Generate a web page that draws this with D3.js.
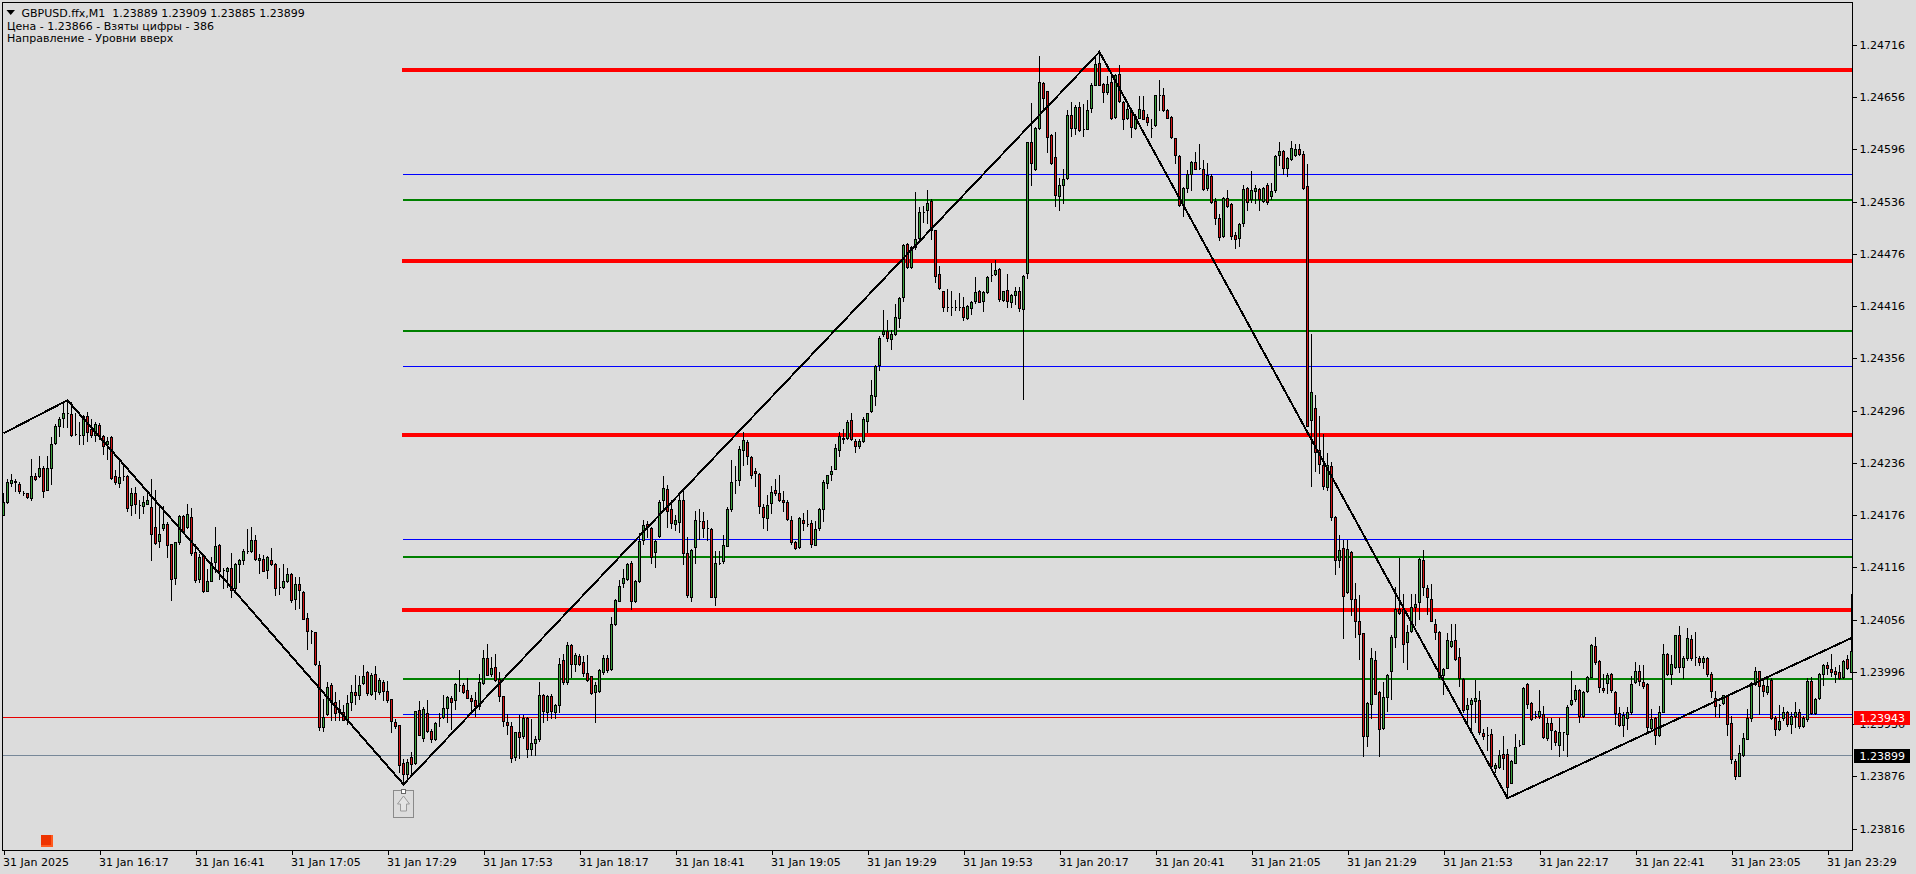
<!DOCTYPE html>
<html><head><meta charset="utf-8">
<script src="https://cdn.jsdelivr.net/npm/d3@7/dist/d3.min.js"></script>
<style>html,body{margin:0;padding:0;background:#dcdcdc;overflow:hidden}svg{display:block}text{font-family:"DejaVu Sans",sans-serif;font-size:11px;fill:#000;white-space:pre}</style>
</head><body><svg id="c" width="1916" height="874"></svg>
<script>
// All candle values: points above 1.23000 (1 point = 0.00001), rows are [open, high, low, close]
const session1 = [[1176,1201,1176,1191],[1191,1218,1190,1214],[1213,1223,1210,1216],[1215,1217,1204,1214],[1212,1214,1201,1204],[1202,1204,1199,1201],[1202,1202,1196,1197],[1196,1241,1194,1221],[1221,1224,1216,1217],[1221,1244,1220,1230],[1230,1233,1197,1204],[1205,1244,1205,1230],[1230,1266,1212,1258],[1259,1281,1258,1279],[1279,1289,1267,1287],[1288,1306,1277,1293],[1293,1308,1277,1293],[1292,1306,1267,1268],[1269,1293,1268,1269],[1268,1283,1258,1268],[1268,1291,1258,1290],[1290,1294,1261,1271],[1275,1287,1266,1268],[1268,1283,1261,1281],[1280,1282,1263,1268],[1267,1268,1246,1256],[1258,1266,1240,1261],[1266,1267,1218,1219],[1221,1228,1212,1214],[1213,1240,1208,1220],[1221,1232,1216,1221],[1221,1222,1181,1184],[1188,1207,1176,1201],[1201,1208,1178,1189],[1188,1193,1173,1188],[1187,1198,1178,1191],[1189,1203,1189,1193],[1185,1217,1124,1154],[1162,1205,1143,1144],[1146,1186,1140,1154],[1161,1186,1159,1166],[1166,1168,1128,1142],[1143,1143,1079,1103],[1104,1145,1097,1145],[1145,1176,1143,1175],[1175,1176,1157,1158],[1162,1189,1161,1177],[1174,1184,1130,1133],[1134,1143,1099,1102],[1103,1132,1099,1128],[1130,1131,1088,1089],[1089,1114,1089,1101],[1101,1128,1101,1121],[1122,1163,1111,1141],[1142,1143,1103,1112],[1113,1115,1092,1113],[1112,1117,1093,1115],[1115,1133,1082,1090],[1092,1121,1089,1120],[1120,1126,1099,1124],[1125,1137,1120,1135],[1135,1160,1133,1135],[1135,1163,1134,1148],[1148,1153,1124,1126],[1125,1131,1110,1127],[1126,1130,1112,1112],[1113,1129,1104,1128],[1125,1138,1119,1120],[1120,1121,1084,1092],[1093,1115,1086,1093],[1094,1120,1092,1101],[1100,1115,1099,1108],[1108,1110,1076,1079],[1080,1105,1068,1097],[1097,1105,1069,1090],[1088,1089,1057,1057],[1058,1064,1022,1043],[1043,1044,1029,1043],[1042,1042,1004,1005],[1004,1009,929,933],[933,965,928,944],[948,985,947,979],[981,983,941,962],[962,973,941,949],[954,964,941,950],[950,958,941,941],[941,969,936,960],[962,981,952,973],[973,993,959,970],[970,991,965,981],[983,1004,982,991],[996,997,969,972],[971,995,969,993],[994,1003,965,974],[973,989,971,987],[985,987,964,974]];
const session2 = [[974,986,961,964],[965,965,927,940],[939,942,932,934],[935,935,881,889],[891,896,867,879],[879,896,872,893],[898,904,877,890],[891,951,890,951],[952,963,924,924],[920,956,917,954],[949,964,927,928],[928,931,916,919],[919,938,918,937],[943,949,934,943],[944,969,943,955],[955,968,939,967],[966,968,931,962],[964,983,954,982],[981,998,974,981],[981,983,972,973],[975,989,966,966],[966,969,950,963],[964,973,945,957],[957,994,954,984],[983,1021,982,1012],[1012,1028,992,992],[994,1013,991,1001],[1002,1017,986,987],[988,996,963,968],[968,968,934,940],[939,948,925,935],[934,938,893,897],[898,927,895,927],[927,946,897,921],[922,946,920,943],[943,944,898,907],[907,942,901,914],[914,922,901,919],[919,984,917,969],[969,971,938,951],[950,970,941,968],[968,971,943,951],[950,959,943,958],[958,1012,950,1005],[1010,1017,982,984],[985,1030,982,1027],[1027,1028,990,1005],[1005,1018,997,1015],[1014,1017,1004,1005],[1007,1014,991,995],[995,1015,986,987],[991,991,971,972],[973,985,938,981],[974,999,973,998],[996,1016,994,1012],[1012,1015,996,998],[999,1059,998,1051],[1051,1080,1050,1079],[1078,1102,1077,1095],[1098,1114,1093,1104],[1103,1121,1102,1120],[1121,1123,1068,1078],[1077,1102,1076,1101],[1100,1155,1099,1146],[1147,1170,1143,1165],[1166,1169,1151,1163],[1161,1162,1121,1128],[1134,1147,1117,1146],[1152,1194,1151,1191],[1193,1221,1182,1207],[1206,1211,1162,1181],[1183,1193,1161,1167],[1166,1176,1159,1170],[1168,1200,1157,1193],[1193,1204,1120,1133],[1133,1151,1082,1084],[1082,1137,1077,1136],[1139,1181,1121,1170],[1169,1183,1149,1169],[1169,1180,1151,1161],[1161,1170,1147,1161],[1160,1161,1082,1082],[1082,1135,1073,1121],[1121,1135,1120,1121],[1123,1153,1121,1142],[1141,1185,1141,1183],[1183,1239,1181,1214],[1216,1233,1202,1216],[1216,1255,1211,1252],[1251,1271,1234,1262],[1260,1262,1235,1244],[1243,1244,1219,1222],[1227,1230,1209,1224],[1223,1224,1179,1186],[1185,1189,1161,1174],[1173,1199,1159,1188]];
const session3 = [[1190,1210,1179,1203],[1205,1217,1199,1201],[1202,1222,1192,1193],[1194,1204,1181,1191],[1191,1193,1171,1172],[1171,1175,1143,1145],[1145,1146,1137,1138],[1139,1174,1138,1173],[1171,1179,1159,1167],[1166,1182,1164,1166],[1167,1170,1140,1143],[1142,1169,1142,1160],[1161,1184,1159,1183],[1183,1216,1169,1214],[1213,1222,1207,1222],[1223,1232,1216,1227],[1229,1258,1229,1253],[1251,1271,1244,1267],[1265,1275,1259,1264],[1265,1285,1264,1283],[1285,1293,1262,1263],[1261,1264,1249,1256],[1255,1264,1253,1261],[1261,1289,1260,1286],[1284,1293,1272,1293],[1296,1331,1295,1314],[1313,1348,1302,1347],[1348,1382,1343,1380],[1384,1412,1382,1388],[1387,1400,1376,1379],[1378,1389,1367,1384],[1384,1419,1383,1404],[1403,1427,1392,1425],[1426,1487,1422,1486],[1487,1488,1460,1461],[1461,1485,1460,1484],[1484,1547,1482,1493],[1494,1530,1492,1524],[1524,1531,1513,1524],[1526,1549,1512,1534],[1537,1539,1493,1503],[1503,1503,1444,1451],[1453,1462,1436,1437],[1433,1434,1411,1415],[1415,1436,1411,1415],[1415,1434,1406,1415],[1415,1423,1412,1415],[1415,1431,1412,1415],[1415,1426,1400,1404],[1402,1417,1401,1416],[1414,1422,1407,1421],[1422,1450,1420,1432],[1433,1435,1421,1421],[1422,1433,1410,1432],[1432,1451,1431,1450],[1452,1466,1445,1452],[1453,1469,1452,1458],[1459,1460,1422,1424],[1423,1434,1422,1434],[1435,1453,1415,1422],[1421,1430,1415,1429],[1429,1438,1419,1434],[1434,1438,1411,1414],[1413,1452,1310,1451],[1454,1605,1448,1604],[1604,1649,1555,1580],[1573,1622,1572,1621],[1621,1703,1620,1674],[1672,1674,1644,1655],[1663,1663,1593,1610],[1613,1614,1579,1580],[1587,1616,1531,1544],[1543,1563,1526,1555],[1555,1573,1534,1562],[1563,1641,1562,1635],[1636,1651,1612,1621],[1621,1647,1614,1645],[1645,1650,1617,1618],[1620,1648,1611,1620],[1620,1653,1619,1641],[1644,1672,1639,1670],[1670,1703,1670,1694],[1695,1708,1670,1670],[1671,1672,1650,1662],[1662,1680,1660,1671],[1673,1685,1631,1632],[1633,1683,1632,1682],[1683,1693,1651,1652],[1651,1652,1619,1631],[1632,1647,1631,1643],[1641,1642,1610,1622],[1621,1637,1620,1634],[1632,1657,1632,1642],[1641,1657,1631,1631],[1633,1637,1624,1628],[1621,1631,1610,1621]];
const session4 = [[1624,1658,1623,1658],[1658,1676,1641,1659],[1659,1667,1640,1641],[1641,1642,1632,1632],[1633,1634,1609,1610],[1609,1609,1580,1590],[1589,1590,1531,1532],[1532,1553,1520,1552],[1552,1572,1547,1568],[1568,1583,1549,1582],[1582,1593,1573,1574],[1575,1602,1573,1575],[1574,1584,1549,1551],[1552,1580,1550,1567],[1565,1568,1535,1536],[1537,1540,1510,1517],[1517,1522,1492,1496],[1497,1541,1496,1540],[1540,1549,1530,1531],[1533,1534,1493,1497],[1498,1501,1483,1493],[1494,1512,1485,1510],[1511,1555,1508,1551],[1552,1553,1527,1536],[1539,1571,1536,1549],[1548,1555,1535,1552],[1551,1552,1526,1539],[1537,1553,1536,1552],[1555,1558,1533,1536],[1542,1558,1539,1548],[1549,1590,1547,1589],[1590,1605,1578,1594],[1594,1595,1568,1575],[1575,1587,1565,1586],[1585,1606,1584,1598],[1590,1602,1589,1597],[1597,1602,1590,1591],[1591,1594,1551,1552],[1554,1579,1278,1279],[1285,1384,1209,1318],[1299,1314,1227,1249],[1251,1290,1225,1235],[1234,1269,1206,1210],[1208,1247,1205,1234],[1233,1237,1170,1174],[1174,1175,1109,1124],[1125,1153,1116,1136],[1138,1147,1035,1083],[1088,1147,1087,1137],[1134,1135,1061,1080],[1080,1098,1036,1054],[1054,1084,1011,1040],[1041,1041,899,923],[922,961,911,960],[959,1024,943,1012],[1010,1020,971,971],[973,974,900,931],[932,985,931,967],[967,994,951,993],[997,1038,965,1036],[1036,1094,1025,1068],[1068,1127,1062,1064],[1068,1086,1008,1028],[1030,1050,999,1042],[1043,1086,1042,1071],[1071,1086,1050,1074],[1076,1127,1057,1126],[1125,1136,1084,1094],[1092,1096,1063,1082],[1080,1097,1054,1055],[1051,1057,1034,1042],[1042,1043,989,990],[992,1001,971,999],[1001,1041,1000,1033],[1026,1051,1025,1031],[1033,1051,1010,1011],[1013,1023,980,989],[988,989,950,952],[954,966,935,958],[959,966,927,964],[963,987,939,966],[964,974,925,927],[926,931,919,922],[924,933,906,924],[925,931,887,888],[886,891,881,889],[887,906,886,901],[902,922,884,897],[902,908,853,864],[869,895,868,894],[892,925,891,910],[912,918,911,912],[913,979,913,978],[982,983,955,959],[960,961,941,942],[945,951,943,945]];
const session5 = [[945,975,943,951],[948,957,920,921],[920,943,918,937],[937,943,907,929],[928,929,912,916],[912,943,900,927],[927,927,906,927],[925,958,900,956],[959,997,958,964],[965,981,963,975],[975,976,938,945],[945,974,944,973],[974,991,973,990],[990,1028,990,1027],[1026,1036,1005,1008],[1009,1010,973,979],[978,994,973,975],[983,995,972,993],[994,995,973,975],[973,974,936,949],[949,956,934,935],[935,950,922,947],[943,956,931,950],[950,991,948,982],[984,1007,983,997],[997,1004,981,986],[985,1004,978,980],[982,983,927,933],[932,954,931,942],[943,944,913,924],[924,957,922,950],[950,1028,950,1017],[1017,1018,992,994],[994,1015,982,1005],[1002,1039,1001,1038],[1038,1049,996,1002],[1002,1014,989,1012],[1012,1047,1010,1035],[1034,1038,1010,1012],[1013,1042,1004,1013],[1012,1014,1004,1007],[1007,1014,1000,1012],[1012,1013,991,994],[994,996,967,974],[966,974,945,957],[958,959,944,958],[960,970,959,969],[969,970,924,936],[937,945,891,896],[894,896,873,876],[877,912,876,903],[901,926,900,920],[919,954,919,943],[943,985,940,983],[982,1002,981,997],[997,997,948,980],[981,989,968,974],[973,990,971,980],[987,989,942,943],[943,945,924,931],[930,958,929,940],[943,956,941,950],[950,951,934,936],[936,950,926,945],[945,962,933,950],[950,953,932,934],[934,945,933,943],[942,989,940,986],[986,990,948,949],[949,966,948,965],[966,995,965,994],[994,1005,981,1004],[1004,1008,994,1000],[999,1017,991,996],[997,1002,985,994],[996,1004,988,989],[990,1010,989,1009],[1011,1015,999,1000],[996,1021,996,1020]];

const zigzagBars = [0,16,100,274,376,462];
const zigzagPoints = [1270,1308,867,1708,851,1035];
const redLevels = [1687,1468,1268,1067];
const greenLevels = [1538,1388,1128,988];
const blueLevels = [1567,1346,1147,947];
const bidPrice = 943, lastPrice = 899;
const bidLabel = "1.23943", lastLabel = "1.23899";
const lastBarSpike = [1085,1021];
const priceTicks = [1716,1656,1596,1536,1476,1416,1356,1296,1236,1176,1116,1056,996,936,876,816];
const timeLabels = ["31 Jan 2025","31 Jan 16:17","31 Jan 16:41","31 Jan 17:05","31 Jan 17:29","31 Jan 17:53","31 Jan 18:17","31 Jan 18:41","31 Jan 19:05","31 Jan 19:29","31 Jan 19:53","31 Jan 20:17","31 Jan 20:41","31 Jan 21:05","31 Jan 21:29","31 Jan 21:53","31 Jan 22:17","31 Jan 22:41","31 Jan 23:05","31 Jan 23:29"];
const titleLines = ["GBPUSD.ffx,M1  1.23889 1.23909 1.23885 1.23899","Цена - 1.23866 - Взяты цифры - 386","Направление - Уровни вверх"];

const candles = [...session1,...session2,...session3,...session4,...session5];
const L=2,T=2,R=1852,B=850;
const x = d3.scaleLinear().domain([0,24]).range([3.5,99.5]);
const y = d3.scaleLinear().domain([1296,816]).range([410.7,828.7]);
const fmt = v => (1.23+v/1e5).toFixed(5);
const crisp = v => Math.round(v)-0.5;

const svg = d3.select("#c");
svg.append("rect").attr("width",1916).attr("height",874).attr("fill","#dcdcdc");
svg.append("defs").append("clipPath").attr("id","plot").append("rect").attr("x",L).attr("y",T).attr("width",R-L+1).attr("height",B-T);
const plot = svg.append("g").attr("clip-path","url(#plot)");

// full-width price lines
plot.append("line").attr("x1",L).attr("x2",R).attr("y1",crisp(y(bidPrice))).attr("y2",crisp(y(bidPrice))).attr("stroke","#e60000").attr("shape-rendering","crispEdges");
plot.append("line").attr("x1",L).attr("x2",R).attr("y1",crisp(y(lastPrice))).attr("y2",crisp(y(lastPrice))).attr("stroke","#778899").attr("shape-rendering","crispEdges");

// level lines
const lv = (vals,color,w,x0) => plot.append("g").selectAll("line").data(vals).join("line")
  .attr("x1",x0).attr("x2",R)
  .attr("y1",d=>w%2?crisp(y(d)):Math.round(y(d))).attr("y2",d=>w%2?crisp(y(d)):Math.round(y(d)))
  .attr("stroke",color).attr("stroke-width",w).attr("shape-rendering","crispEdges");
lv(blueLevels,"#0000ff",1,x(100)-0.5);
lv(greenLevels,"#008000",2,x(100)-0.5);
lv(redLevels,"#ff0000",4,x(100)-1.5);

// candles
const g = plot.append("g");
g.selectAll("path.wick").data(candles).join("path").attr("class","wick")
  .attr("d",(d,i)=>{const X=x(i);return `M${X},${Math.round(y(d[1]))}V${Math.round(y(d[2]))+1}`;})
  .attr("stroke","#000").attr("fill","none").attr("shape-rendering","crispEdges");
g.selectAll("path.body").data(candles).join("path").attr("class","body")
  .attr("d",(d,i)=>{const X=x(i)-1,t=Math.round(y(Math.max(d[0],d[3])))+.5,b=Math.round(y(Math.min(d[0],d[3])))+.5;return `M${X},${t}H${X+2}V${b}H${X}Z`;})
  .attr("fill",d=>d[3]>=d[0]?"#3ca03c":"#d21414").attr("stroke","#000").attr("shape-rendering","crispEdges");

// zigzag
const zig = zigzagBars.map((b,i)=>[x(b),y(zigzagPoints[i])]);
plot.append("path").attr("d",d3.line()(zig)).attr("fill","none").attr("stroke","#000").attr("stroke-width",2).attr("shape-rendering","crispEdges");
plot.append("line").attr("x1",R).attr("x2",R).attr("y1",y(lastBarSpike[0])).attr("y2",y(lastBarSpike[1])).attr("stroke","#000").attr("stroke-width",3).attr("shape-rendering","crispEdges");

// frame
const frame = svg.append("g").attr("shape-rendering","crispEdges").attr("stroke","#000").attr("fill","none");
frame.append("path").attr("d",`M${L+.5},${B+.5}V${T+.5}H${R+.5}V${B+.5}H${L+.5}`);

// axes
const xAxis = d3.axisBottom(x).tickValues(timeLabels.map((_,i)=>i*24)).tickSize(4).tickFormat((d,i)=>timeLabels[i]);
const gx = svg.append("g").attr("transform",`translate(0,${B+.5})`).call(xAxis);
gx.select(".domain").remove();
gx.selectAll("line").attr("stroke","#000").attr("shape-rendering","crispEdges");
gx.selectAll("text").attr("text-anchor","start").attr("x",-1).attr("y",0).attr("dy","15px").attr("font-family",null).attr("font-size",null);
gx.attr("font-family",null).attr("font-size",null);

const yAxis = d3.axisRight(y).tickValues(priceTicks).tickSize(4).tickPadding(3).tickFormat(fmt);
const gy = svg.append("g").attr("transform",`translate(${R+.5},0)`).call(yAxis);
gy.select(".domain").remove();
gy.selectAll("line").attr("stroke","#000").attr("shape-rendering","crispEdges");
gy.attr("font-family",null).attr("font-size",null);

// price tags
[[bidPrice,bidLabel,"#ff0000"],[lastPrice,lastLabel,"#000"]].forEach(([v,t,c])=>{
  const Y=crisp(y(v))+.5;
  svg.append("rect").attr("x",1854).attr("y",Y-7).attr("width",56).attr("height",14).attr("fill",c);
  svg.append("text").attr("x",1859.5).attr("y",Y).attr("dy",".35em").style("fill","#fff").text(t);
});

// title
const tt = svg.append("g");
tt.append("path").attr("d","M6.5,10H15L10.7,15Z").attr("fill","#000");
tt.append("text").attr("x",21.5).attr("y",17).text(titleLines[0]);
tt.append("text").attr("x",7).attr("y",30).text(titleLines[1]);
tt.append("text").attr("x",7).attr("y",42).text(titleLines[2]);

// arrow marker at the low and orange marker
const mx = x(100);
const m = svg.append("g").attr("transform",`translate(${mx},${790})`);
m.append("rect").attr("x",-10).attr("y",0.5).attr("width",20).attr("height",27).attr("fill","none").attr("stroke","#8a8a8a").attr("shape-rendering","crispEdges");
m.append("path").attr("d","M0,6L6,14H3V21H-3V14H-6Z").attr("fill","#e4e4e4").attr("stroke","#9a9a9a");
m.append("rect").attr("x",-2).attr("y",-.5).attr("width",4).attr("height",4).attr("fill","#fff").attr("stroke","#666").attr("shape-rendering","crispEdges");
svg.append("rect").attr("x",41).attr("y",835).attr("width",12).attr("height",12).attr("fill","#ff5a1e");
svg.append("rect").attr("x",41).attr("y",835).attr("width",10).attr("height",10).attr("fill","#ee3300");
</script></body></html>
